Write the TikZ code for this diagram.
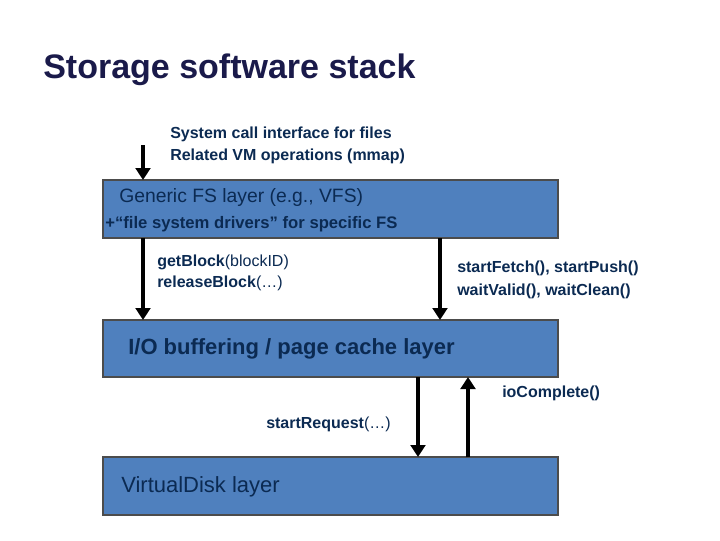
\documentclass[tikz,border=0pt]{standalone}
\usepackage{fontspec}
\setmainfont{Liberation Sans}
\usetikzlibrary{arrows.meta}
\definecolor{navy}{HTML}{1A1A4A}
\definecolor{ink}{HTML}{0B2A52}
\definecolor{boxblue}{HTML}{4F80BE}
\begin{document}
\begin{tikzpicture}[x=0.75pt,y=-0.75pt,
    layer/.style={draw=black!70,fill=boxblue,line width=0.8pt},
    lbl/.style={anchor=west,inner sep=0pt,text=ink,font=\fontsize{12}{14}\selectfont,align=left},
    call/.style={line width=3.6pt,-{Triangle[length=9pt,width=11pt]}}]
\useasboundingbox (0,0) rectangle (720,540);
\node[anchor=west,inner sep=0pt,text=navy,font=\fontsize{25.5}{30}\bfseries] (title) at (43,70) {Storage software stack};

\draw[layer] (103,180) rectangle (558,238);
\draw[layer] (103,320) rectangle (558,377);
\draw[layer] (103,457) rectangle (558,515);

\node[lbl,font=\fontsize{12}{16.5}\bfseries\selectfont] (sys) at (170,145) {System call interface for files\\Related VM operations (mmap)};
\node[lbl,font=\fontsize{14.5}{17}\selectfont] (vfs) at (119,197) {Generic FS layer (e.g., VFS)};
\node[lbl,font=\fontsize{12.5}{15}\bfseries\selectfont] (drv) at (105,224) {+“file system drivers” for specific FS};
\node[lbl,font=\fontsize{12}{16}\selectfont] (get) at (157,273) {\textbf{getBlock}(blockID)\\\textbf{releaseBlock}(…)};
\node[lbl,font=\fontsize{12}{17}\bfseries\selectfont] (fetch) at (457,280) {startFetch(), startPush()\\waitValid(), waitClean()};
\node[lbl,font=\fontsize{16.5}{20}\bfseries\selectfont] (io) at (128,349) {I/O buffering / page cache layer};
\node[lbl,font=\fontsize{12}{14}\bfseries\selectfont] (done) at (502,393) {ioComplete()};
\node[lbl,font=\fontsize{12}{14}\selectfont] (req) at (266,424) {\textbf{startRequest}(…)};
\node[lbl,font=\fontsize{16.5}{20}\selectfont] (vd) at (121,487) {VirtualDisk layer};

\coordinate (a1) at (143,145); \coordinate (a1e) at (143,180);
\coordinate (a2) at (143,238); \coordinate (a2e) at (143,320);
\coordinate (a3) at (440,238); \coordinate (a3e) at (440,320);
\coordinate (a4) at (418,377); \coordinate (a4e) at (418,457);
\coordinate (a5) at (468,457); \coordinate (a5e) at (468,377);
\draw[call] (a1) -- (a1e);
\draw[call] (a2) -- (a2e);
\draw[call] (a3) -- (a3e);
\draw[call] (a4) -- (a4e);
\draw[call] (a5) -- (a5e);
\end{tikzpicture}
\end{document}
